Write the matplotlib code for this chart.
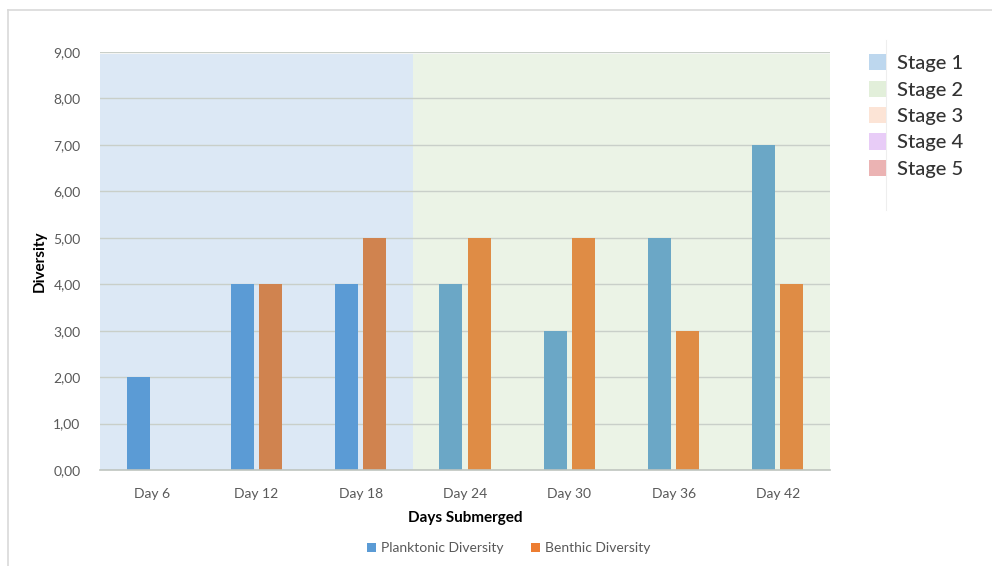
import matplotlib
matplotlib.use("Agg")
import matplotlib.pyplot as plt
from matplotlib.patches import Patch, Rectangle
from matplotlib.lines import Line2D
from matplotlib.ticker import FuncFormatter

plt.rcParams['font.family'] = ['Lato', 'DejaVu Sans']

days = ["Day 6", "Day 12", "Day 18", "Day 24", "Day 30", "Day 36", "Day 42"]
planktonic = [2, 4, 4, 4, 3, 5, 7]
benthic = [0, 4, 5, 5, 5, 3, 4]
stage_of_day = [1, 1, 1, 2, 2, 2, 2]
stage_labels = ["Stage 1", "Stage 2", "Stage 3", "Stage 4", "Stage 5"]
stage_colors = ["#BDD7EE", "#E2EFDA", "#FCE4D6", "#E8CCF7", "#EBB3B3"]
stage_bg = {1: "#DCE8F5", 2: "#EBF3E6"}
plank_color = {1: "#5B9BD5", 2: "#6BA7C6"}
benth_color = {1: "#D0834F", 2: "#DF8C45"}

fig = plt.figure(figsize=(9.92, 5.66), dpi=100)
ax = fig.add_axes([100/992, 1-470/566, 730/992, 418/566])

# outer chart frame
fig.add_artist(Line2D([8/992, 8/992], [0, 1-10/566], color="#D9D9D9", lw=1.2, transform=fig.transFigure))
fig.add_artist(Line2D([8/992, 1], [1-10/566, 1-10/566], color="#D9D9D9", lw=1.2, transform=fig.transFigure))
fig.add_artist(Line2D([886/992, 886/992], [1-210/566, 1-40/566], color="#EEEEEE", lw=0.8, transform=fig.transFigure))

n = len(days)
ax.set_xlim(-0.5, n - 0.5)
ax.set_ylim(0, 9)

# stage shading behind the bars
start = 0
for i in range(1, n + 1):
    if i == n or stage_of_day[i] != stage_of_day[start]:
        s = stage_of_day[start]
        ax.add_patch(Rectangle((start - 0.5, 0), i - start, 8.95, facecolor=stage_bg[s],
                               edgecolor="none", zorder=0))
        start = i

for y in range(1, 10):
    ax.axhline(y, color="#C9CFC9", lw=1.0, zorder=1)

w = 0.22
off = 0.135
for i in range(n):
    s = stage_of_day[i]
    ax.bar(i - off, planktonic[i], width=w, color=plank_color[s], zorder=2)
    ax.bar(i + off, benthic[i], width=w, color=benth_color[s], zorder=2)

for sp in ["top", "right", "left"]:
    ax.spines[sp].set_visible(False)
ax.spines["bottom"].set_color("#BFC5BF")
ax.spines["bottom"].set_linewidth(1.2)

ax.set_xticks(range(n))
ax.set_xticklabels(days)
ax.set_yticks(range(0, 10))
ax.yaxis.set_major_formatter(FuncFormatter(lambda v, p: f"{v:.2f}".replace(".", ",")))
ax.tick_params(axis="both", length=0, colors="#595959", labelsize=10)
ax.tick_params(axis="y", pad=14)
ax.tick_params(axis="x", pad=13)

ax.set_ylabel("Diversity", fontsize=11, fontweight="bold", color="black", labelpad=5)
ax.set_xlabel("Days Submerged", fontsize=11, fontweight="bold", color="black", labelpad=8)

# series legend below the plot
series_handles = [Patch(facecolor="#5B9BD5"), Patch(facecolor="#ED7D31")]
fig.legend(series_handles, ["Planktonic Diversity", "Benthic Diversity"], loc="center",
           bbox_to_anchor=(509/992, 1-548/566), ncol=2, frameon=False, fontsize=10,
           handlelength=0.6, handleheight=0.6, handletextpad=0.4, columnspacing=2.0,
           labelcolor="#595959")

# stage legend on the right
stage_handles = [Patch(facecolor=c) for c in stage_colors]
fig.legend(stage_handles, stage_labels, loc="upper left", bbox_to_anchor=(861/992, 1-46/566),
           frameon=False, handlelength=0.85, handleheight=0.85, handletextpad=0.55,
           labelspacing=0.42, labelcolor="#333333", borderaxespad=0,
           prop={"size": 14.5, "weight": "medium"})

fig.savefig("out.png", dpi=100)
